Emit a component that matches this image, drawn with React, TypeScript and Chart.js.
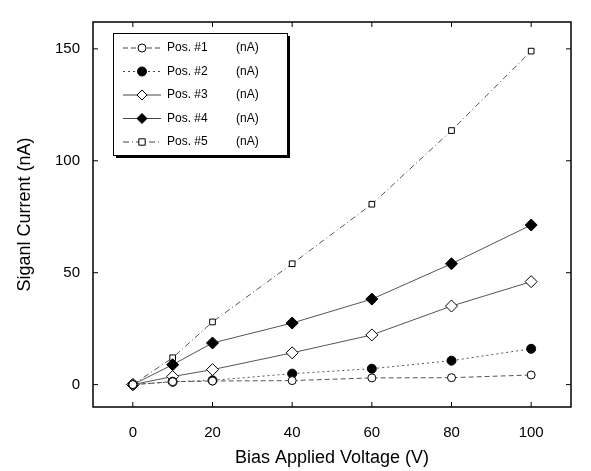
import React, { useEffect, useRef } from "react";
import { Chart, registerables } from "chart.js";

Chart.register(...registerables);

const voltages = [0, 10, 20, 40, 60, 80, 100];
const pos1 = [0, 1.3, 1.6, 1.8, 3.0, 3.1, 4.3];
const pos2 = [0, 1.3, 1.9, 4.9, 7.1, 10.7, 16.0];
const pos3 = [0, 3.6, 6.7, 14.2, 22.2, 35.1, 46.0];
const pos4 = [0, 8.9, 18.6, 27.5, 38.2, 54.0, 71.3];
const pos5 = [0, 12.0, 28.0, 54.0, 80.6, 113.5, 149.0];
const seriesLabels = ["Pos. #1|(nA)", "Pos. #2|(nA)", "Pos. #3|(nA)", "Pos. #4|(nA)", "Pos. #5|(nA)"];
const xTicks = [0, 20, 40, 60, 80, 100];
const yTicks = [0, 50, 100, 150];
const xTitle = "Bias Applied Voltage (V)";
const yTitle = "Siganl Current (nA)";

const FONT = "'Liberation Sans', Arial, Helvetica, sans-serif";

const styles = [
  { dash: [5, 3], point: "circle", fill: "#ffffff", radius: 4 },
  { dash: [2, 3], point: "circle", fill: "#000000", radius: 4.5 },
  { dash: [], point: "rectRot", fill: "#ffffff", radius: 6 },
  { dash: [], point: "rectRot", fill: "#000000", radius: 6 },
  { dash: [6, 3, 1, 3], point: "rect", fill: "#ffffff", radius: 4 },
];

const allSeries = [pos1, pos2, pos3, pos4, pos5];

function drawMarker(ctx: CanvasRenderingContext2D, style: string, r: number, x: number, y: number, fill: string) {
  ctx.beginPath();
  if (style === "circle") {
    ctx.arc(x, y, r, 0, Math.PI * 2);
  } else if (style === "rectRot") {
    ctx.moveTo(x, y - r);
    ctx.lineTo(x + r, y);
    ctx.lineTo(x, y + r);
    ctx.lineTo(x - r, y);
    ctx.closePath();
  } else {
    ctx.rect(x - r * 0.8, y - r * 0.8, r * 1.6, r * 1.6);
  }
  ctx.fillStyle = fill;
  ctx.fill();
  ctx.strokeStyle = "#000";
  ctx.stroke();
}

const framePlugin = {
  id: "frame",
  afterDraw(chart: any) {
    const { ctx, chartArea: a, scales } = chart;
    ctx.save();
    ctx.strokeStyle = "#000";
    ctx.lineWidth = 1.5;
    ctx.strokeRect(a.left, a.top, a.right - a.left, a.bottom - a.top);
    ctx.lineWidth = 1;
    yTicks.forEach((v) => {
      const y = scales.y.getPixelForValue(v);
      ctx.beginPath();
      ctx.moveTo(a.left, y);
      ctx.lineTo(a.left + 5, y);
      ctx.moveTo(a.right, y);
      ctx.lineTo(a.right - 5, y);
      ctx.stroke();
    });
    xTicks.forEach((v) => {
      const x = scales.x.getPixelForValue(v);
      ctx.beginPath();
      ctx.moveTo(x, a.bottom);
      ctx.lineTo(x, a.bottom - 5);
      ctx.moveTo(x, a.top);
      ctx.lineTo(x, a.top + 5);
      ctx.stroke();
    });

    // legend box with drop shadow
    const bx = 113, by = 33, bw = 174, bh = 122;
    ctx.fillStyle = "#000";
    ctx.fillRect(bx + 3, by + 3, bw, bh);
    ctx.fillStyle = "#fff";
    ctx.fillRect(bx, by, bw, bh);
    ctx.strokeStyle = "#000";
    ctx.lineWidth = 1;
    ctx.strokeRect(bx + 0.5, by + 0.5, bw, bh);

    ctx.font = "12px " + FONT;
    ctx.textBaseline = "middle";
    chart.data.datasets.forEach((ds: any, i: number) => {
      const y = by + 15 + i * 23.5;
      ctx.save();
      ctx.strokeStyle = "#444";
      ctx.lineWidth = 1;
      ctx.setLineDash(ds.borderDash || []);
      ctx.beginPath();
      ctx.moveTo(bx + 10, y);
      ctx.lineTo(bx + 48, y);
      ctx.stroke();
      ctx.restore();
      ctx.save();
      ctx.lineWidth = 1;
      drawMarker(ctx, ds.pointStyle, Math.min(ds.pointRadius, 5), bx + 29, y, ds.pointBackgroundColor);
      ctx.restore();
      const [name, unit] = String(ds.label).split("|");
      ctx.fillStyle = "#000";
      ctx.textAlign = "left";
      ctx.fillText(name, bx + 54, y);
      ctx.fillText(unit, bx + 123, y);
    });
    ctx.restore();
  },
};

export default function App() {
  const ref = useRef<HTMLCanvasElement | null>(null);
  useEffect(() => {
    document.body.style.margin = "0";
    const canvas = ref.current;
    if (!canvas) return;
    const chart = new Chart(canvas, {
      type: "line",
      data: {
        datasets: allSeries.map((s, i) => ({
          label: seriesLabels[i],
          data: voltages.map((v, j) => ({ x: v, y: s[j] })),
          borderColor: "#555",
          borderWidth: 1,
          borderDash: styles[i].dash,
          pointStyle: styles[i].point as any,
          pointRadius: styles[i].radius,
          pointBackgroundColor: styles[i].fill,
          pointBorderColor: "#000",
          pointBorderWidth: 1,
          tension: 0,
          fill: false,
        })),
      },
      options: {
        animation: false,
        responsive: false,
        devicePixelRatio: 1,
        layout: { padding: { top: 18, right: 20, left: 0, bottom: 0 } },
        plugins: { legend: { display: false }, tooltip: { enabled: false } },
        scales: {
          x: {
            type: "linear",
            min: -10,
            max: 110,
            afterFit: (s: any) => { s.height = 64; },
            afterBuildTicks: (s: any) => { s.ticks = xTicks.map((v) => ({ value: v })); },
            grid: { display: false, drawTicks: false },
            border: { display: false },
            ticks: { color: "#000", padding: 17, font: { family: FONT, size: 15 } },
            title: { display: true, text: xTitle, color: "#000", font: { family: FONT, size: 18 }, padding: { top: 0, bottom: 2 } },
          },
          y: {
            type: "linear",
            min: -10,
            max: 162,
            afterFit: (s: any) => { s.width = 93; },
            afterBuildTicks: (s: any) => { s.ticks = yTicks.map((v) => ({ value: v })); },
            grid: { display: false, drawTicks: false },
            border: { display: false },
            ticks: { color: "#000", padding: 13, font: { family: FONT, size: 15 } },
            title: { display: true, text: yTitle, color: "#000", font: { family: FONT, size: 18 }, padding: { top: 14, bottom: 0 } },
          },
        },
      },
      plugins: [framePlugin],
    });
    return () => chart.destroy();
  }, []);
  return (
    <div style={{ width: 591, height: 471 }}>
      <canvas ref={ref} width={591} height={471} style={{ display: "block" }} />
    </div>
  );
}
